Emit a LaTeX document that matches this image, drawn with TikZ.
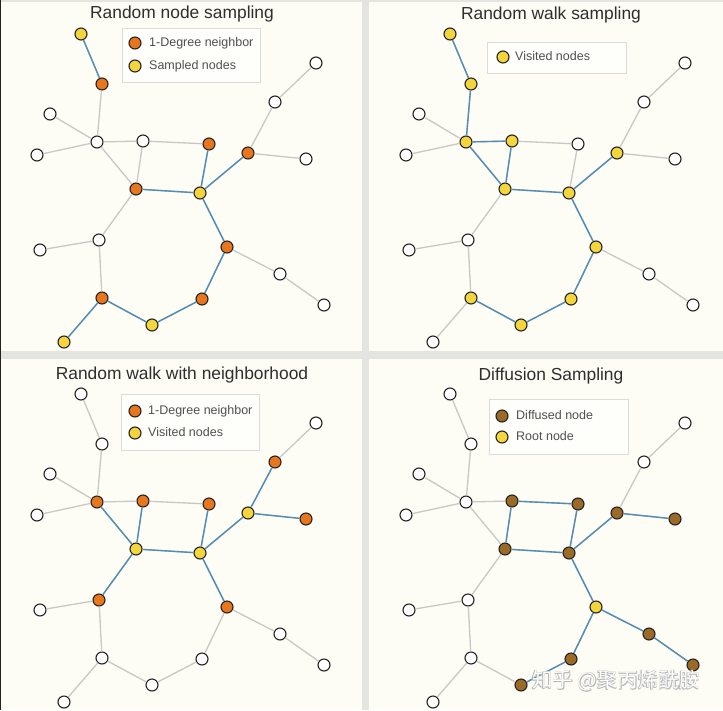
\documentclass[tikz,border=0pt]{standalone}
\usepackage{fontspec}
\setmainfont{Liberation Sans}
\newfontfamily\cjk{Noto Sans CJK SC}
\definecolor{bg}{HTML}{FDFDF5}
\definecolor{sepc}{HTML}{E4E4E1}
\definecolor{ndline}{HTML}{222222}
\definecolor{orng}{HTML}{E8761C}
\definecolor{yel}{HTML}{F5D53C}
\definecolor{brn}{HTML}{9A6A26}
\definecolor{edgegray}{HTML}{C8C8C5}
\definecolor{edgeblue}{HTML}{4F8CB6}
\definecolor{titlec}{HTML}{2E2E2E}
\definecolor{legtextc}{HTML}{505050}
\definecolor{legline}{HTML}{DCDCD8}
\definecolor{wmshadow}{HTML}{B8B8B8}
\tikzset{
  nd/.style={circle, draw=ndline, line width=1.1pt, minimum size=12pt, inner sep=0pt, fill=white},
  ge/.style={draw=edgegray, line width=1.3pt},
  be/.style={draw=edgeblue, line width=1.4pt},
  ttl/.style={font=\fontsize{17.4}{20}\selectfont, text=titlec, anchor=base, inner sep=0pt},
  legbox/.style={draw=legline, line width=0.9pt, fill=white!60!bg, anchor=north west, inner sep=0pt},
  legtxt/.style={font=\fontsize{12.5}{14}\selectfont, text=legtextc, anchor=west, inner sep=0pt, text height=1.5ex, text depth=0.3ex},
  wm/.style={font=\cjk\fontsize{20.5}{22}\selectfont, inner sep=0pt},
  sA/.style={},sB/.style={},sC/.style={},sD/.style={},sE/.style={},sF/.style={},
  sG/.style={},sH/.style={},sI/.style={},sJ/.style={},sK/.style={},sL/.style={},
  sM/.style={},sN/.style={},sO/.style={},sP/.style={},sQ/.style={},sR/.style={},
  sS/.style={},sT/.style={},sU/.style={},sV/.style={},
  Y/.style={fill=yel}, O/.style={fill=orng}, B/.style={fill=brn}
}
\newcommand\basecoords{A/81/34, B/102/84, C/50/114, D/97/142, E/37/155, F/143/141,
  G/209/144, H/248/153, I/275/102, J/316/63, K/306/159, L/136/189, M/200/193,
  N/99/240, O/40/250, P/227/247, Q/280/274, R/324/305, S/102/298, T/152/325,
  U/202/299, V/64/342}
\newcommand\alledges{A/B, B/D, C/D, E/D, D/F, D/L, F/G, F/L, G/M, L/M, M/H, H/I,
  I/J, H/K, M/P, P/Q, Q/R, L/N, N/O, N/S, S/V, S/T, T/U, U/P}
\begin{document}
\begin{tikzpicture}[x=1pt,y=-1pt]
\useasboundingbox (0,0) rectangle (723,710);
\fill[bg] (0,0) rectangle (723,710);
\fill[sepc] (362,0) rectangle (369,710);
\fill[sepc] (0,351) rectangle (723,359);
\fill[sepc] (0,0) rectangle (723,1.5);
\draw[ndline, line width=1.2pt] (0.6,0) -- (0.6,710);

% ---------- panel 1
\begin{scope}[sA/.style={Y}, sB/.style={O}, sG/.style={O}, sH/.style={O}, sL/.style={O},
  sM/.style={Y}, sP/.style={O}, sS/.style={O}, sT/.style={Y}, sU/.style={O}, sV/.style={Y}]
  \foreach \n/\x/\y in \basecoords { \node[nd, s\n] (a\n) at (\x,\y) {}; }
  \foreach \p/\q in \alledges { \draw[ge] (a\p) -- (a\q); }
  \foreach \p/\q in {A/B, G/M, L/M, M/H, M/P, S/V, S/T, T/U, U/P} { \draw[be] (a\p) -- (a\q); }
\end{scope}
\node[ttl] (t1) at (182,18.5) {Random node sampling};
\node[legbox, minimum width=138pt, minimum height=54pt] (lg1) at (122,28) {};
\node[nd, O] (lg1a) at (135,43) {};
\node[nd, Y] (lg1b) at (135,66) {};
\node[legtxt] (lg1at) at (149,43) {1-Degree neighbor};
\node[legtxt] (lg1bt) at (149,66) {Sampled nodes};

% ---------- panel 2
\begin{scope}[shift={(369,0)}, sA/.style={Y}, sB/.style={Y}, sD/.style={Y}, sF/.style={Y},
  sL/.style={Y}, sM/.style={Y}, sH/.style={Y}, sP/.style={Y}, sU/.style={Y}, sT/.style={Y}, sS/.style={Y}]
  \foreach \n/\x/\y in \basecoords { \node[nd, s\n] (b\n) at (\x,\y) {}; }
  \foreach \p/\q in \alledges { \draw[ge] (b\p) -- (b\q); }
  \foreach \p/\q in {A/B, B/D, D/F, D/L, F/L, L/M, M/H, M/P, P/U, U/T, T/S} { \draw[be] (b\p) -- (b\q); }
\end{scope}
\node[ttl] (t2) at (551,19) {Random walk sampling};
\node[legbox, minimum width=139pt, minimum height=31pt] (lg2) at (487,42) {};
\node[nd, Y] (lg2a) at (503,57) {};
\node[legtxt] (lg2at) at (515,57) {Visited nodes};

% ---------- panel 3
\begin{scope}[shift={(0,360)}, sD/.style={O}, sF/.style={O}, sG/.style={O}, sI/.style={O},
  sK/.style={O}, sN/.style={O}, sP/.style={O}, sH/.style={Y}, sL/.style={Y}, sM/.style={Y}]
  \foreach \n/\x/\y in \basecoords { \node[nd, s\n] (c\n) at (\x,\y) {}; }
  \foreach \p/\q in \alledges { \draw[ge] (c\p) -- (c\q); }
  \foreach \p/\q in {D/L, F/L, L/M, G/M, M/H, H/I, H/K, L/N, M/P} { \draw[be] (c\p) -- (c\q); }
\end{scope}
\node[ttl] (t3) at (182,379.5) {Random walk with neighborhood};
\node[legbox, minimum width=138pt, minimum height=56pt] (lg3) at (121,394) {};
\node[nd, O] (lg3a) at (135,411) {};
\node[nd, Y] (lg3b) at (135,433) {};
\node[legtxt] (lg3at) at (148,411) {1-Degree neighbor};
\node[legtxt] (lg3bt) at (148,433) {Visited nodes};

% ---------- panel 4
\begin{scope}[shift={(369,360)}, sF/.style={B}, sG/.style={B}, sL/.style={B}, sM/.style={B},
  sH/.style={B}, sK/.style={B}, sQ/.style={B}, sR/.style={B}, sU/.style={B}, sT/.style={B}, sP/.style={Y}]
  \foreach \n/\x/\y in \basecoords { \node[nd, s\n] (d\n) at (\x,\y) {}; }
  \foreach \p/\q in \alledges { \draw[ge] (d\p) -- (d\q); }
  \foreach \p/\q in {F/G, F/L, G/M, L/M, M/H, H/K, M/P, P/Q, Q/R, P/U, U/T} { \draw[be] (d\p) -- (d\q); }
\end{scope}
\node[ttl] (t4) at (551,380) {Diffusion Sampling};
\node[legbox, minimum width=139pt, minimum height=55pt] (lg4) at (489,399) {};
\node[nd, B] (lg4a) at (502,416) {};
\node[nd, Y] (lg4b) at (502,437) {};
\node[legtxt] (lg4at) at (516,416) {Diffused node};
\node[legtxt] (lg4bt) at (516,437) {Root node};

% ---------- watermark
\node[wm, text=wmshadow] (wms1) at (616.6,681.6) {知乎 @聚丙烯酰胺};
\node[wm, text=wmshadow] (wms2) at (615.4,680.4) {知乎 @聚丙烯酰胺};
\node[wm, text=wmshadow] (wms3) at (616.6,680.4) {知乎 @聚丙烯酰胺};
\node[wm, text=wmshadow] (wms4) at (615.4,681.6) {知乎 @聚丙烯酰胺};
\node[wm, text=white] (wm) at (616,681) {知乎 @聚丙烯酰胺};
\end{tikzpicture}
\end{document}
